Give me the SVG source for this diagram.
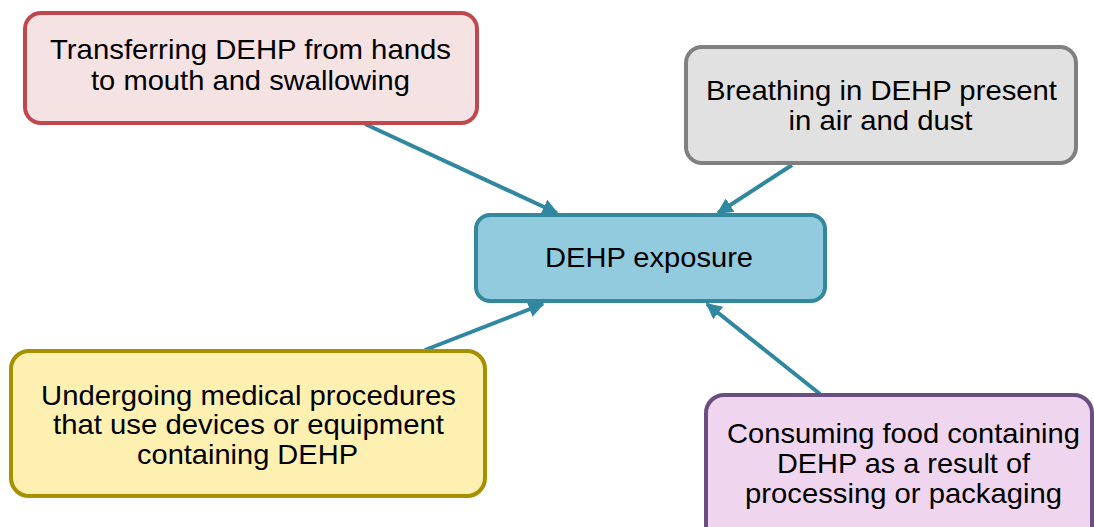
<svg xmlns="http://www.w3.org/2000/svg" width="1094" height="527" viewBox="0 0 1094 527">
<style>
.t{font-family:"Liberation Sans",Arial,sans-serif;font-size:28px;fill:#000;text-anchor:middle}
.c{stroke:#2f87a0;stroke-width:4;fill:none}
</style>
<defs>
<marker id="a" viewBox="0 0 10 10" refX="9" refY="5" markerWidth="4" markerHeight="4" orient="auto" markerUnits="strokeWidth">
<path d="M0,0 L10,5 L0,10 z" fill="#2f87a0"/>
</marker>
</defs>
<rect width="1094" height="527" fill="#fff"/>
<g id="connectors">
<line class="c" x1="365" y1="124" x2="557" y2="213" marker-end="url(#a)"/>
<line class="c" x1="792" y1="165" x2="718" y2="213" marker-end="url(#a)"/>
<line class="c" x1="425" y1="350" x2="543" y2="304" marker-end="url(#a)"/>
<line class="c" x1="820" y1="394" x2="707" y2="304" marker-end="url(#a)"/>
</g>
<g id="hands">
<rect x="25" y="13" width="452" height="110" rx="16" fill="#f5e3e4" stroke="#c0474d" stroke-width="4"/>
<text class="t" x="250.5" y="59" textLength="401" lengthAdjust="spacingAndGlyphs">Transferring DEHP from hands</text>
<text class="t" x="250.5" y="90" textLength="319" lengthAdjust="spacingAndGlyphs">to mouth and swallowing</text>
</g>
<g id="breathing">
<rect x="686" y="47" width="390" height="116" rx="16" fill="#e1e1e1" stroke="#808080" stroke-width="4"/>
<text class="t" x="881.5" y="100" textLength="351" lengthAdjust="spacingAndGlyphs">Breathing in DEHP present</text>
<text class="t" x="880.5" y="130" textLength="184" lengthAdjust="spacingAndGlyphs">in air and dust</text>
</g>
<g id="exposure">
<rect x="476" y="215" width="349" height="86" rx="14" fill="#92cbdd" stroke="#33889e" stroke-width="4"/>
<text class="t" x="649" y="267" textLength="208" lengthAdjust="spacingAndGlyphs">DEHP exposure</text>
</g>
<g id="medical">
<rect x="11" y="351" width="474" height="145" rx="18" fill="#fdf0b0" stroke="#a69000" stroke-width="4"/>
<text class="t" x="248.5" y="405" textLength="415" lengthAdjust="spacingAndGlyphs">Undergoing medical procedures</text>
<text class="t" x="248.5" y="434" textLength="391" lengthAdjust="spacingAndGlyphs">that use devices or equipment</text>
<text class="t" x="247.5" y="464" textLength="221" lengthAdjust="spacingAndGlyphs">containing DEHP</text>
</g>
<g id="food">
<rect x="706" y="395" width="386" height="150" rx="18" fill="#efd6ee" stroke="#6a4e80" stroke-width="4"/>
<text class="t" x="903.5" y="443" textLength="353" lengthAdjust="spacingAndGlyphs">Consuming food containing</text>
<text class="t" x="903.5" y="473" textLength="253" lengthAdjust="spacingAndGlyphs">DEHP as a result of</text>
<text class="t" x="903.5" y="503" textLength="317" lengthAdjust="spacingAndGlyphs">processing or packaging</text>
</g>
</svg>
